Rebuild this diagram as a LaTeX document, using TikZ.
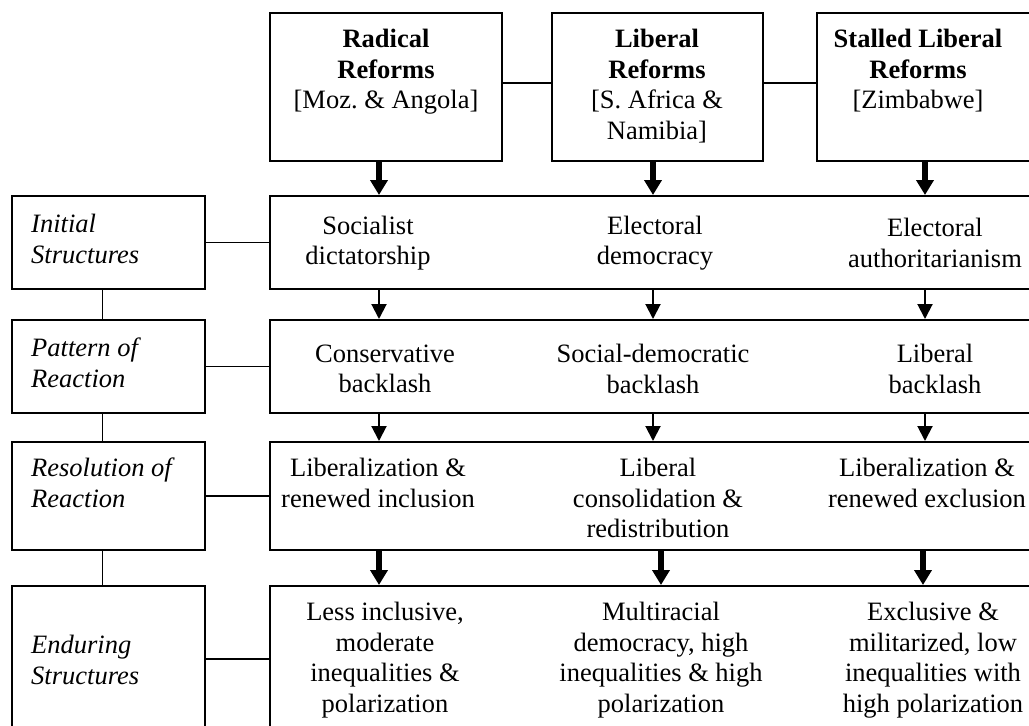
\documentclass[tikz,border=0pt]{standalone}
\usepackage{fontspec}
\setmainfont{Liberation Serif}
\usetikzlibrary{arrows.meta,positioning}
\newcommand{\cellfont}{\fontsize{26.5}{30.5}\selectfont}

\begin{document}
\begin{tikzpicture}[
        x=1pt, y=-1pt,
        box/.style={draw, line width=2pt, inner sep=0pt},
        topbox/.style={box, minimum height=148pt},
        rowbox/.style={box, minimum width=763pt},
        sidebox/.style={box, minimum width=193pt},
        celltext/.style={inner sep=0pt, align=center, font=\cellfont},
        sidetext/.style={inner sep=0pt, align=left, anchor=west, font=\cellfont\itshape},
        link/.style={line width=1.6pt},
        bigarrow/.style={line width=5.5pt, -{Triangle[width=17pt,length=15pt]}},
        smallarrow/.style={line width=2pt, -{Triangle[width=15pt,length=15pt]}}
    ]
        \useasboundingbox (0,0) rectangle (1029,726);
        \clip (0,0) rectangle (1029,726);

        % columns of the arrows
        \coordinate (c1) at (379,0);
        \coordinate (c2) at (653,0);
        \coordinate (c3) at (925,0);
        \coordinate (d2) at (661,0);
        \coordinate (d3) at (923,0);

        % reform types
        \node (radical) [topbox, minimum width=232pt] at (386,87) {};
        \node (liberal) [topbox, minimum width=211pt] at (657.5,87) {};
        \node (stalled) [topbox, minimum width=240pt] at (937,87) {};
        \node (radicalt) [celltext, anchor=north] at (386,29) {\textbf{Radical}\\\textbf{Reforms}\\{[Moz.\ \& Angola]}};
        \node (liberalt) [celltext, anchor=north] at (657,29) {\textbf{Liberal}\\\textbf{Reforms}\\{[S. Africa \&}\\Namibia]};
        \node (stalledt) [celltext, anchor=north] at (918,29) {\textbf{Stalled Liberal}\\\textbf{Reforms}\\{[Zimbabwe]}};

        % stages
        \node (sinit) [sidebox, minimum height=93pt] at (108.5,242.5) {};
        \node (spattern) [sidebox, minimum height=93pt] at (108.5,366.5) {};
        \node (sresol) [sidebox, minimum height=108pt] at (108.5,496) {};
        \node (sendur) [sidebox, minimum height=146pt] at (108.5,659) {};
        \node (sinitt) [sidetext] at (31,239) {Initial\\Structures};
        \node (spatternt) [sidetext] at (31,363) {Pattern of\\Reaction};
        \node (sresolt) [sidetext, anchor=north west] at (31,458) {Resolution of\\Reaction};
        \node (sendurt) [sidetext] at (31,660) {Enduring\\Structures};

        % rows
        \node (rinit) [rowbox, minimum height=93pt] at (651.5,242.5) {};
        \node (rpattern) [rowbox, minimum height=93pt] at (651.5,366.5) {};
        \node (rresol) [rowbox, minimum height=108pt] at (651.5,496) {};
        \node (rendur) [rowbox, minimum height=146pt] at (651.5,659) {};

        \node (socialist) [celltext] at (368,243) {Socialist\\dictatorship};
        \node (electdem) [celltext] at (655,243) {Electoral\\democracy};
        \node (electauth) [celltext] at (935,243) {Electoral\\authoritarianism};

        \node (conservative) [celltext] at (385,369) {Conservative\\backlash};
        \node (socdem) [celltext] at (653,369) {Social-democratic\\backlash};
        \node (libback) [celltext] at (935,369) {Liberal\\backlash};

        \node (libincl) [celltext, anchor=north] at (378,458) {Liberalization \&\\renewed inclusion};
        \node (libcons) [celltext, anchor=north] at (658,458) {Liberal\\consolidation \&\\redistribution};
        \node (libexcl) [celltext, anchor=north] at (927,458) {Liberalization \&\\renewed exclusion};

        \node (lessincl) [celltext] at (385,660) {Less inclusive,\\moderate\\inequalities \&\\polarization};
        \node (multiracial) [celltext] at (661,660) {Multiracial\\democracy, high\\inequalities \& high\\polarization};
        \node (exclusive) [celltext] at (933,660) {Exclusive \&\\militarized, low\\inequalities with\\high polarization};

        % plain links
        \draw [link] ([yshift=4pt]radical.east) -- ([yshift=4pt]liberal.west);
        \draw [link] ([yshift=4pt]liberal.east) -- ([yshift=4pt]stalled.west);
        \draw [link] (sinit.east) -- (rinit.west);
        \draw [link] (spattern.east) -- (rpattern.west);
        \draw [link] (sresol.east) -- (rresol.west);
        \draw [link] (sendur.east) -- (rendur.west);
        \draw [link] ([xshift=-6pt]sinit.south) -- ([xshift=-6pt]spattern.north);
        \draw [link] ([xshift=-6pt]spattern.south) -- ([xshift=-6pt]sresol.north);
        \draw [link] ([xshift=-6pt]sresol.south) -- ([xshift=-6pt]sendur.north);

        % arrows
        \draw [bigarrow] (radical.south -| c1) -- (rinit.north -| c1);
        \draw [bigarrow] (liberal.south -| c2) -- (rinit.north -| c2);
        \draw [bigarrow] (stalled.south -| c3) -- (rinit.north -| c3);
        \draw [smallarrow] (rinit.south -| c1) -- (rpattern.north -| c1);
        \draw [smallarrow] (rinit.south -| c2) -- (rpattern.north -| c2);
        \draw [smallarrow] (rinit.south -| c3) -- (rpattern.north -| c3);
        \draw [smallarrow] (rpattern.south -| c1) -- (rresol.north -| c1);
        \draw [smallarrow] (rpattern.south -| c2) -- (rresol.north -| c2);
        \draw [smallarrow] (rpattern.south -| c3) -- (rresol.north -| c3);
        \draw [bigarrow] (rresol.south -| c1) -- (rendur.north -| c1);
        \draw [bigarrow] (rresol.south -| d2) -- (rendur.north -| d2);
        \draw [bigarrow] (rresol.south -| d3) -- (rendur.north -| d3);
    \end{tikzpicture}
\end{document}
